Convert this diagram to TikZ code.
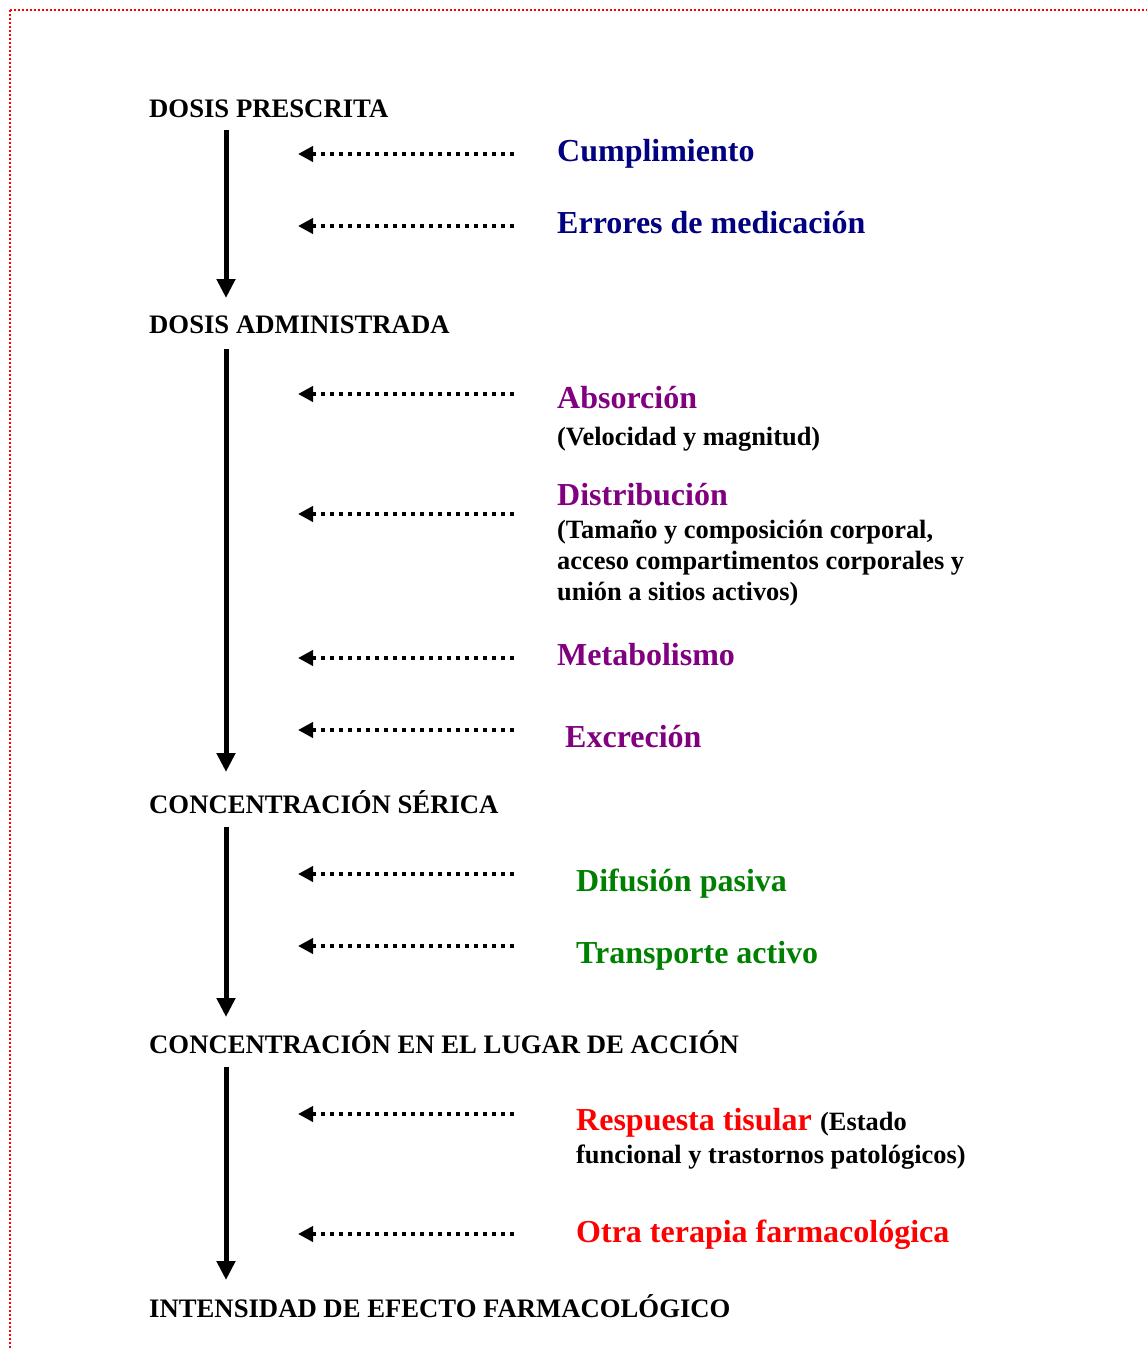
\documentclass[tikz,border=0pt]{standalone}
\usepackage{fontspec}
\setmainfont{Liberation Serif}
\usetikzlibrary{arrows.meta}
\definecolor{cnavy}{RGB}{0,0,128}
\definecolor{cpurple}{RGB}{128,0,128}
\definecolor{cgreen}{RGB}{0,128,0}
\definecolor{cred}{RGB}{255,0,0}
\begin{document}
\begin{tikzpicture}[x=1pt,y=-1pt,
 head/.style={anchor=base west, inner sep=0pt, font=\fontsize{26.7}{30}\selectfont\bfseries},
 lab/.style={anchor=base west, inner sep=0pt, font=\fontsize{32}{36}\selectfont\bfseries},
 note/.style={anchor=base west, inner sep=0pt, font=\fontsize{26.4}{31}\selectfont\bfseries},
 flow/.style={line width=5pt, -{Triangle[length=19pt,width=18pt]}},
 infl/.style={line width=4pt, dash pattern=on 4.5pt off 4.5pt, -{Triangle[length=15pt,width=15pt]}},
 frame/.style={draw=cred, line width=2pt, dash pattern=on 2pt off 2pt},
]
\useasboundingbox (0,0) rectangle (1146,1349);
\fill[white] (0,0) rectangle (1146,1349);
\coordinate (fa) at (1146,9.5);
\coordinate (fb) at (9.5,9.5);
\coordinate (fc) at (9.5,1349);
\draw[frame] (fb) -- (fa);
\draw[frame] (fb) -- (fc);

% headings
\node[head] (h1) at (149,117) {DOSIS PRESCRITA};
\node[head] (h2) at (149,333) {DOSIS ADMINISTRADA};
\node[head] (h3) at (149,813) {CONCENTRACIÓN SÉRICA};
\node[head] (h4) at (149,1053) {CONCENTRACIÓN EN EL LUGAR DE ACCIÓN};
\node[head] (h5) at (149,1317) {INTENSIDAD DE EFECTO FARMACOLÓGICO};

% main flow arrows
\coordinate (f1s) at (226,130);  \coordinate (f1e) at (226,298);
\coordinate (f2s) at (226,349);  \coordinate (f2e) at (226,772);
\coordinate (f3s) at (226,827);  \coordinate (f3e) at (226,1017);
\coordinate (f4s) at (226,1067); \coordinate (f4e) at (226,1280);
\draw[flow] (f1s) -- (f1e);
\draw[flow] (f2s) -- (f2e);
\draw[flow] (f3s) -- (f3e);
\draw[flow] (f4s) -- (f4e);

% influence arrows
\foreach \i/\y in {1/154,2/226,3/394,4/514,5/658,6/730,7/874,8/946,9/1114,10/1234}{
  \coordinate (i\i s) at (514,\y);
  \coordinate (i\i e) at (298,\y);
  \draw[infl] (i\i s) -- (i\i e);
}

% labels
\node[lab, text=cnavy] (l1) at (557,161) {Cumplimiento};
\node[lab, text=cnavy] (l2) at (557,233) {Errores de medicación};
\node[lab, text=cpurple] (l3) at (557,408) {Absorción};
\node[note] (n3) at (557,445) {(Velocidad y magnitud)};
\node[lab, text=cpurple] (l4) at (557,505) {Distribución};
\node[note] (n4a) at (557,538) {(Tamaño y composición corporal,};
\node[note] (n4b) at (557,569) {acceso compartimentos corporales y};
\node[note] (n4c) at (557,600) {unión a sitios activos)};
\node[lab, text=cpurple] (l5) at (557,665) {Metabolismo};
\node[lab, text=cpurple] (l6) at (565,747) {Excreción};
\node[lab, text=cgreen] (l7) at (576,891) {Difusión pasiva};
\node[lab, text=cgreen] (l8) at (576,963) {Transporte activo};
\node[lab, text=cred] (l9) at (576,1130) {Respuesta tisular};
\node[note] (n9a) at ([xshift=8pt]l9.base east) {(Estado};
\node[note] (n9b) at (576,1163) {funcional y trastornos patológicos)};
\node[lab, text=cred] (l10) at (576,1242) {Otra terapia farmacológica};
\end{tikzpicture}
\end{document}
